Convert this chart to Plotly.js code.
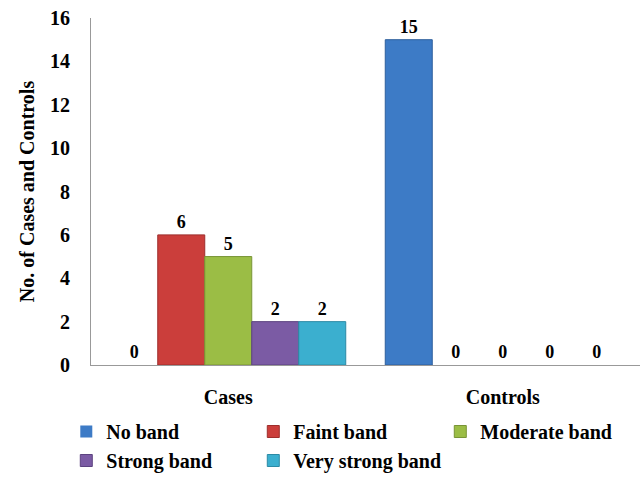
<!DOCTYPE html>
<html>
<head>
<meta charset="utf-8">
<script src="https://cdn.plot.ly/plotly-3.0.1.min.js"></script>
<style>html,body{margin:0;padding:0;background:#fff;}#chart{width:640px;height:480px;}</style>
</head>
<body>
<div id="chart"></div>
<script>
var categories = ["Cases", "Controls"];
var seriesNames = ["No band", "Faint band", "Moderate band", "Strong band", "Very strong band"];
var noBand = [0, 15];
var faintBand = [6, 0];
var moderateBand = [5, 0];
var strongBand = [2, 0];
var veryStrongBand = [2, 0];
var yTicks = [0, 2, 4, 6, 8, 10, 12, 14, 16];

var seriesValues = [noBand, faintBand, moderateBand, strongBand, veryStrongBand];
var colors = ["#3D7BC6", "#CB3E3B", "#9BBD45", "#7B5BA4", "#3BAFCF"];
var lineColors = ["#2E5F9C", "#9E2E2C", "#789436", "#5C4380", "#2C8AA5"];
var font = "Liberation Serif";

var traces = seriesValues.map(function (vals, i) {
  return {
    type: "bar",
    name: seriesNames[i],
    x: categories,
    y: vals,
    text: vals.map(String),
    textposition: "outside",
    cliponaxis: false,
    textfont: {family: font, size: 18, color: "#000", weight: "bold"},
    marker: {color: colors[i], line: {color: lineColors[i], width: vals.map(function (v) { return v > 0 ? 1 : 0; })}},
    hoverinfo: "x+y+name"
  };
});

var layout = {
  width: 640,
  height: 480,
  margin: {l: 91, r: 0, t: 18, b: 114},
  paper_bgcolor: "#fff",
  plot_bgcolor: "#fff",
  barmode: "group",
  bargap: 0.144,
  bargroupgap: 0,
  font: {family: font, size: 20, color: "#000", weight: "bold"},
  xaxis: {
    showline: true,
    linecolor: "#999",
    linewidth: 1,
    ticks: "",
    ticklabelstandoff: 14,
    tickfont: {family: font, size: 20, color: "#000", weight: "bold"},
    showgrid: false,
    zeroline: false
  },
  yaxis: {
    range: [0, 16],
    tickvals: yTicks,
    ticktext: yTicks.map(String),
    showline: true,
    linecolor: "#999",
    linewidth: 1,
    ticks: "",
    ticklabelstandoff: 16,
    showgrid: false,
    zeroline: false,
    tickfont: {family: font, size: 20, color: "#000", weight: "bold"},
    title: {text: "No. of Cases and Controls", font: {family: font, size: 20, color: "#000", weight: "bold"}, standoff: 10}
  },
  showlegend: true,
  legend: {
    orientation: "h",
    x: -0.045,
    xanchor: "left",
    y: -0.135,
    yanchor: "top",
    entrywidth: 142,
    entrywidthmode: "pixels",
    traceorder: "normal",
    font: {family: font, size: 20, color: "#000", weight: "bold"},
    itemwidth: 30,
    tracegroupgap: 0
  }
};

Plotly.newPlot("chart", traces, layout, {displayModeBar: false, staticPlot: true});
</script>
</body>
</html>
